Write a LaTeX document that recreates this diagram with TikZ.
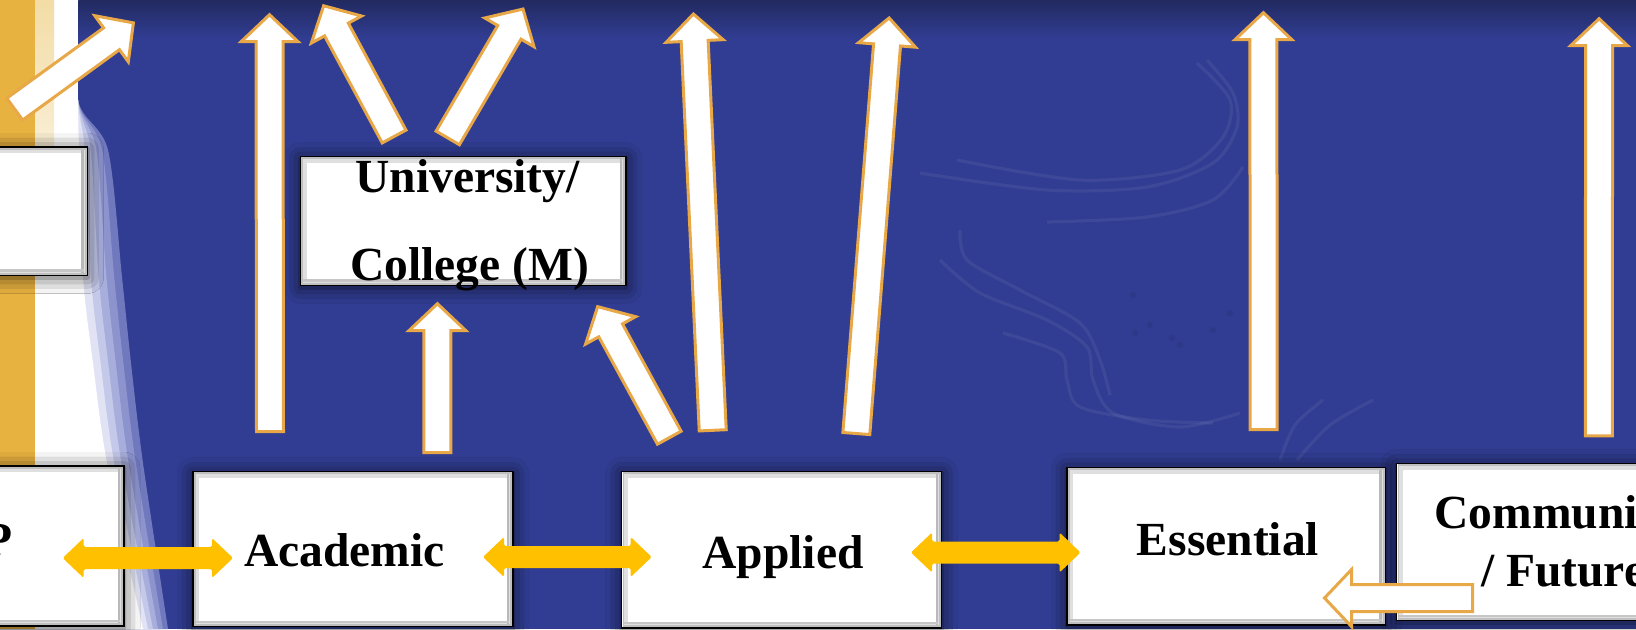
\documentclass[tikz,border=0pt]{standalone}
\usepackage{fontspec}
\setmainfont{Liberation Serif}
\usetikzlibrary{calc,shadows.blur}
\definecolor{bgblue}{RGB}{49,61,146}
\definecolor{topdark}{RGB}{34,42,96}
\definecolor{goldbar}{RGB}{232,178,64}
\definecolor{creamstrip}{RGB}{243,220,165}
\definecolor{lav1}{RGB}{112,120,190}
\definecolor{lav2}{RGB}{140,147,205}
\definecolor{lav3}{RGB}{168,174,220}
\definecolor{lav4}{RGB}{196,200,233}
\definecolor{lav5}{RGB}{225,227,244}
\definecolor{arrowedge}{RGB}{232,168,72}
\definecolor{dblgold}{RGB}{255,192,0}
\definecolor{dotdark}{RGB}{38,48,120}

\newcommand\blockarrow[2]{%
  \coordinate (bt) at ($(#2)!1pt!(#1)$);
  \coordinate (bs) at ($(#1)!0.75pt!(#2)$);
  \coordinate (bh) at ($(bt)!13.5pt!(bs)$);
  \draw[barrow] ($(bs)!6.75pt!90:(bt)$) -- ($(bh)!6.75pt!90:(bt)$) -- ($(bh)!14.25pt!90:(bt)$) -- (bt) -- ($(bh)!14.25pt!-90:(bt)$) -- ($(bh)!6.75pt!-90:(bt)$) -- ($(bs)!6.75pt!-90:(bt)$) -- cycle;}

\newcommand\dblarrow[2]{%
  \fill[dblgold, rounded corners=0.8pt] (#1) -- ($(#1)+(21,-20)$) -- ($(#1)+(21,-11)$) -- ($(#2)+(-21,-11)$) -- ($(#2)+(-21,-20)$) -- (#2) -- ($(#2)+(-21,20)$) -- ($(#2)+(-21,11)$) -- ($(#1)+(21,11)$) -- ($(#1)+(21,20)$) -- cycle;}

\newcommand\boxbevel[1]{%
  \fill[gray!50] ([xshift=0.7pt,yshift=-0.7pt]#1.north west) rectangle ([xshift=-0.7pt,yshift=0.7pt]#1.south east);
  \fill[gray!25] ([xshift=1.6pt,yshift=-1.6pt]#1.north west) rectangle ([xshift=-1.6pt,yshift=1.6pt]#1.south east);
  \fill[gray!55] ([xshift=-3.4pt,yshift=-1.6pt]#1.north east) rectangle ([xshift=-2.2pt,yshift=1.6pt]#1.south east);
  \fill[gray!45] ([xshift=1.6pt,yshift=3.4pt]#1.south west) rectangle ([xshift=-2.2pt,yshift=2.2pt]#1.south east);
  \fill[white] ([xshift=3.4pt,yshift=-3.4pt]#1.north west) rectangle ([xshift=-3.4pt,yshift=3.4pt]#1.south east);}

\begin{document}
\begin{tikzpicture}[x=0.5pt,y=-0.5pt,
  box/.style={draw=black, line width=0.6pt, fill=white, inner sep=0pt,
    blur shadow={shadow xshift=0pt, shadow yshift=-1pt, shadow blur radius=8pt, shadow opacity=70}},
  barrow/.style={draw=arrowedge, line width=1.5pt, fill=white, line join=miter},
  lbl/.style={font=\fontsize{23.75}{28}\selectfont\bfseries, inner sep=0pt, anchor=base},
  swirl/.style={white, opacity=0.06, line width=1.6pt}]
\useasboundingbox (0,0) rectangle (1636,629);
\clip (0,0) rectangle (1636,629);

% background
\fill[bgblue] (0,0) rectangle (1636,629);
\shade[top color=topdark, bottom color=bgblue] (0,0) rectangle (1636,38);

% left decoration: white swoosh with lavender edge
\fill[lav1] (0,0) -- plot[smooth] coordinates {(78,0) (78,100) (108,150) (122,277) (131,363) (143,463) (168,629)} -- (0,629) -- cycle;
\fill[lav2] (0,0) -- plot[smooth] coordinates {(78,0) (78,100) (102.2,150) (114.2,277) (123.4,363) (135.8,463) (163,629)} -- (0,629) -- cycle;
\fill[lav3] (0,0) -- plot[smooth] coordinates {(78,0) (78,100) (96.4,150) (106.4,277) (115.8,363) (128.6,463) (158,629)} -- (0,629) -- cycle;
\fill[lav4] (0,0) -- plot[smooth] coordinates {(78,0) (78,100) (90.6,150) (98.6,277) (108.2,363) (121.4,463) (153,629)} -- (0,629) -- cycle;
\fill[lav5] (0,0) -- plot[smooth] coordinates {(78,0) (78,100) (84.8,150) (90.8,277) (100.6,363) (114.2,463) (148,629)} -- (0,629) -- cycle;
\fill[white] (0,0) -- plot[smooth] coordinates {(78,0) (78,100) (79,150) (83,277) (93,363) (107,463) (143,629)} -- (0,629) -- cycle;
\shade[top color=creamstrip, bottom color=white] (35,0) rectangle (54,280);
\fill[goldbar] (0,0) rectangle (35,629);

% faint swirls
\draw[swirl] plot[smooth] coordinates {(920,173) (1047,190) (1147,187) (1213,163) (1237,127) (1233,93) (1207,60)};
\draw[swirl] plot[smooth] coordinates {(957,160) (1080,180) (1180,170) (1223,137) (1230,100) (1197,63)};
\draw[swirl] plot[smooth] coordinates {(1047,222) (1147,217) (1213,200) (1243,167)};
\draw[swirl] plot[smooth] coordinates {(940,260) (980,293) (1047,320) (1087,347) (1093,380) (1113,413) (1180,427) (1240,413)};
\draw[swirl] plot[smooth] coordinates {(960,230) (967,260) (1020,290) (1080,323) (1100,360) (1110,395)};
\draw[swirl] plot[smooth] coordinates {(1003,333) (1060,353) (1067,380) (1080,407) (1147,420) (1213,423)};
\draw[swirl] plot[smooth] coordinates {(1280,460) (1295,425) (1323,400)};
\draw[swirl] plot[smooth] coordinates {(1297,460) (1330,425) (1373,400)};
\foreach \p in {(1133,295),(1150,325),(1135,333),(1180,345),(1213,330),(1230,313),(1172,338)}
  \fill[dotdark, opacity=0.35] \p circle (3);

% boxes
\node[box, minimum width=53.8pt, minimum height=64.25pt] (lbox) at (33.8,211.25) {};
\node[box, minimum width=162.75pt, minimum height=64.55pt] (univ) at (463.25,221.05) {};
\node[box, minimum width=72pt, minimum height=80pt] (pbox) at (52,546) {};
\node[box, minimum width=160pt, minimum height=77.55pt] (acad) at (353,549.15) {};
\node[box, minimum width=160pt, minimum height=78.35pt] (appl) at (781.7,549.65) {};
\node[box, minimum width=159.2pt, minimum height=78.85pt] (ess) at (1226.2,546.15) {};
\node[box, minimum width=161.6pt, minimum height=78.7pt] (comm) at (1558.4,542) {};
\foreach \b in {lbox,univ,pbox,acad,appl,ess,comm} {\boxbevel{\b}}

% block arrows
\coordinate (a1s) at (13.5,110);    \coordinate (a1t) at (135,21.7);
\coordinate (a2s) at (270,433);     \coordinate (a2t) at (269.5,12.7);
\coordinate (a3s) at (394.8,137.8); \coordinate (a3t) at (322.7,4);
\coordinate (a4s) at (447,139.2);   \coordinate (a4t) at (524,7.3);
\coordinate (a5s) at (437.4,454);   \coordinate (a5t) at (437.4,301.7);
\coordinate (a6s) at (670,439);     \coordinate (a6t) at (596.7,304.9);
\coordinate (a7s) at (712.8,431.8); \coordinate (a7t) at (693.3,12);
\coordinate (a8s) at (856.2,435);   \coordinate (a8t) at (889.3,16);
\coordinate (a9s) at (1263.6,431);  \coordinate (a9t) at (1263.4,10.7);
\coordinate (a10s) at (1598.8,437.3); \coordinate (a10t) at (1599.1,16.7);
\coordinate (a11s) at (1474,598);   \coordinate (a11t) at (1322.5,598);
\blockarrow{a1s}{a1t}
\blockarrow{a2s}{a2t}
\blockarrow{a3s}{a3t}
\blockarrow{a4s}{a4t}
\blockarrow{a5s}{a5t}
\blockarrow{a6s}{a6t}
\blockarrow{a7s}{a7t}
\blockarrow{a8s}{a8t}
\blockarrow{a9s}{a9t}
\blockarrow{a10s}{a10t}
\blockarrow{a11s}{a11t}

% double arrows
\coordinate (d1l) at (62.7,558);  \coordinate (d1r) at (233,558);
\coordinate (d2l) at (483,557);   \coordinate (d2r) at (651.7,557);
\coordinate (d3l) at (911,552.5); \coordinate (d3r) at (1080.5,552.5);
\dblarrow{d1l}{d1r}
\dblarrow{d2l}{d2r}
\dblarrow{d3l}{d3r}

% texts
\node[lbl] (tuni1) at (467.5,192.7) {University/};
\node[lbl] (tuni2) at (469.5,280) {College (M)};
\node[lbl] (tacad) at (344.5,566.7) {Academic};
\node[lbl] (tappl) at (783,568) {Applied};
\node[lbl] (tess) at (1228,555) {Essential};
\node[lbl, anchor=base west] (tcomm1) at (1434,528.3) {Communi};
\node[lbl, anchor=base west] (tcomm2) at (1480.7,586.7) {/ Future};
\node[lbl, anchor=base east] (tp) at (12.7,555) {P};
\end{tikzpicture}
\end{document}
